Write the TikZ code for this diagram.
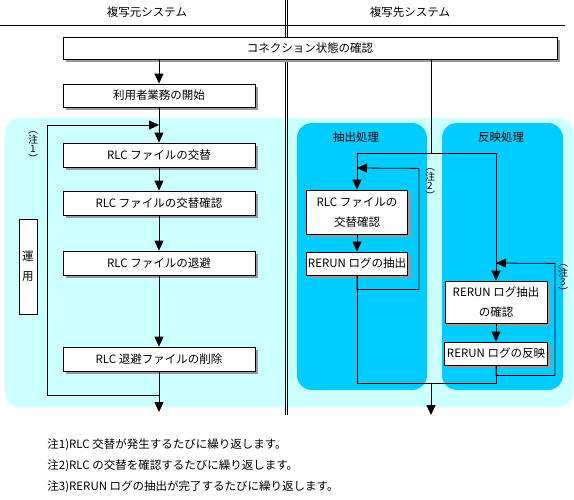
\documentclass[tikz,border=0pt]{standalone}
\usepackage{fontspec}
\setmainfont{Noto Sans CJK JP}
\usetikzlibrary{arrows.meta,shadows}
\definecolor{paleCyan}{HTML}{CCFFFF}
\definecolor{deepCyan}{HTML}{00CCFF}

\begin{document}
\begin{tikzpicture}[x=1pt, y=-1pt, line width=0.8pt, >={Triangle[width=9pt,length=10pt]},
  every node/.style={font=\fontsize{11.5}{20}\selectfont, inner sep=0pt},
  box/.style={draw, fill=white, align=center, drop shadow={shadow xshift=3pt, shadow yshift=-3pt, fill=gray!80, opacity=1}},
  note/.style={align=center, font=\fontsize{10}{9.5}\selectfont}]
\useasboundingbox (0,0) rectangle (574,499);
\fill[paleCyan, rounded corners=15pt] (5,118) rectangle (573,407);
\fill[deepCyan, rounded corners=15pt] (297,123) rectangle (427,390);
\fill[deepCyan, rounded corners=15pt] (442,123) rectangle (563,390);
\draw (285,0) -- (285,415) (287.5,0) -- (287.5,415);
\draw (0,25) -- (565,25);
\node (srcsys) at (147,12) {複写元システム};
\node (dstsys) at (410,12) {複写先システム};
\node (extract) at (356,137) {抽出処理};
\node (apply) at (501,137) {反映処理};
\node[box, minimum width=494, minimum height=22] (conn) at (310,48) {コネクション状態の確認};
\node[box, minimum width=192, minimum height=23] (start) at (159,95.5) {利用者業務の開始};
\node[box, minimum width=192, minimum height=24] (b1) at (159,155) {RLC ファイルの交替};
\node[box, minimum width=192, minimum height=24] (b2) at (159,203) {RLC ファイルの交替確認};
\node[box, minimum width=192, minimum height=24] (b3) at (159,263) {RLC ファイルの退避};
\node[box, minimum width=192, minimum height=24] (b4) at (159,359) {RLC 退避ファイルの削除};
\node[draw, fill=white, align=center, minimum width=18, minimum height=95] (unyo) at (28,266.5) {運\\用};
\node[note] (note1) at (33,147) {︵\\注\\1\\︶};
\node[box, minimum width=101, minimum height=44] (r1) at (357,212) {RLC ファイルの\\交替確認};
\node[box, minimum width=101, minimum height=23] (r2) at (357,263.5) {RERUN ログの抽出};
\node[box, minimum width=102, minimum height=42] (r3) at (496,302) {RERUN ログ抽出\\の確認};
\node[box, minimum width=103, minimum height=23] (r4) at (496,353.5) {RERUN ログの反映};
\node[note] (note2) at (430,184) {︵\\注\\2\\︶};
\node[note] (note3) at (563,280) {︵\\注\\3\\︶};
\node[anchor=west] (fn1) at (47,445) {注1)RLC 交替が発生するたびに繰り返します。};
\node[anchor=west] (fn2) at (47,466) {注2)RLC の交替を確認するたびに繰り返します。};
\node[anchor=west] (fn3) at (47,487) {注3)RERUN ログの抽出が完了するたびに繰り返します。};
\coordinate (reentry) at (159,125);
\coordinate (loopL) at (159,395);
\coordinate (exitL) at (159,412);
\coordinate (split) at (431,153);
\coordinate (back2) at (357,168);
\coordinate (back3) at (496,263);
\coordinate (merge) at (431,383);
\draw[->] (conn.south -| start.north) -- (start.north);
\draw[->] (start) -- (b1);
\draw[->] (b1) -- (b2);
\draw[->] (b2) -- (b3);
\draw[->] (b3) -- (b4);
\draw[->] (b4) -- (exitL);
\draw[->] (loopL) -- ++(-112,0) |- (reentry);
\draw (conn.south -| split) -- (split);
\draw[->] (split) -| (r1);
\draw[->] (split) -| (r3);
\draw[->] (r1) -- (r2);
\draw[->] (r3) -- (r4);
\draw[->] (r2.south) -- ++(0,14) -| ++(62,-121) -- (back2);
\draw[->] (r4.south) -- ++(0,10) -| ++(59,-112) -- (back3);
\draw (r2) |- (merge);
\draw (r4) |- (merge);
\draw[->] (merge) -- ++(0,32);
\end{tikzpicture}
\end{document}
